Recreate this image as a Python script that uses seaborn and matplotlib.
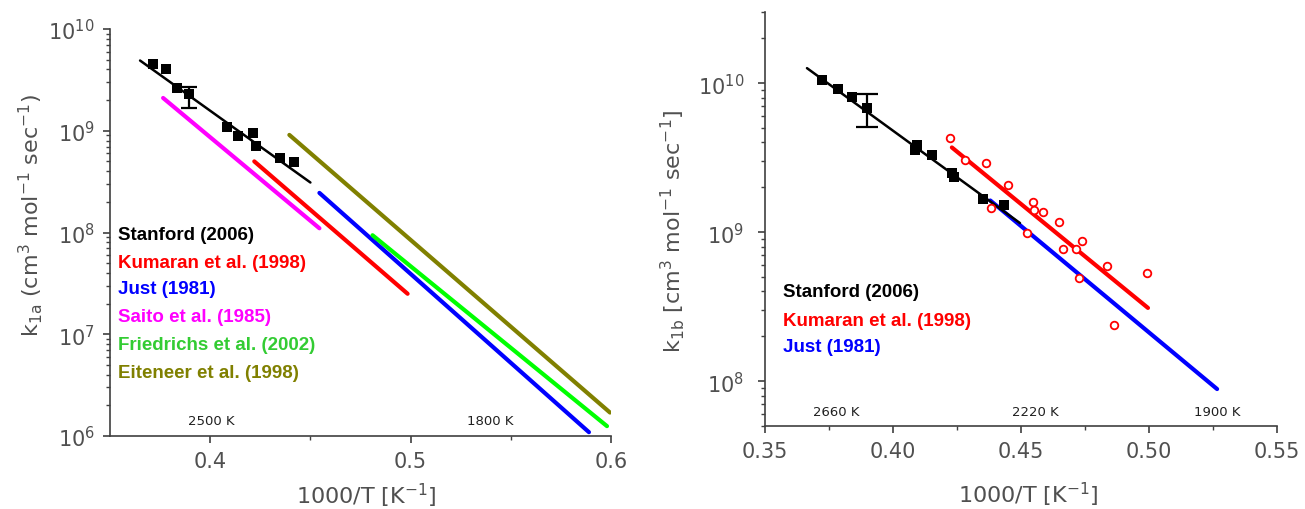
import numpy as np
import pandas as pd
import matplotlib
matplotlib.use("Agg")
import matplotlib.pyplot as plt
import seaborn as sns
from matplotlib.ticker import LogLocator, FixedLocator, NullFormatter, FixedFormatter

sns.set_style("ticks")
plt.rcParams['font.family'] = ['DejaVu Sans']
plt.rcParams['mathtext.default'] = 'regular'

# ---------------- Data: left panel (k1a) ----------------
stan_a_x = [0.3713, 0.378, 0.3833, 0.3892, 0.4083, 0.4137, 0.4213, 0.423, 0.435, 0.442]
stan_a_k = [4.5e9, 4.0e9, 2.65e9, 2.3e9, 1.08e9, 8.9e8, 9.6e8, 7.1e8, 5.4e8, 4.95e8]
stan_a_err_x = [0.3892]
stan_a_err_k = [2.3e9]
stan_a_err_lo = [1.66e9]
stan_a_err_hi = [2.67e9]

fit_a_names = ["Stanford (2006)", "Kumaran et al. (1998)", "Just (1981)",
               "Saito et al. (1985)", "Friedrichs et al. (2002)", "Eiteneer et al. (1998)"]
fit_a_x = {
    "Stanford (2006)": [0.365, 0.45],
    "Kumaran et al. (1998)": [0.422, 0.4985],
    "Just (1981)": [0.4545, 0.589],
    "Saito et al. (1985)": [0.3765, 0.4545],
    "Friedrichs et al. (2002)": [0.481, 0.598],
    "Eiteneer et al. (1998)": [0.4395, 0.5995],
}
fit_a_k = {
    "Stanford (2006)": [4.9e9, 3.1e8],
    "Kumaran et al. (1998)": [5.0e8, 2.5e7],
    "Just (1981)": [2.45e8, 1.09e6],
    "Saito et al. (1985)": [2.1e9, 1.1e8],
    "Friedrichs et al. (2002)": [9.4e7, 1.25e6],
    "Eiteneer et al. (1998)": [9.1e8, 1.7e6],
}

# ---------------- Data: right panel (k1b) ----------------
stan_b_x = [0.3721, 0.3786, 0.3839, 0.3897, 0.4085, 0.4095, 0.4151, 0.4229, 0.4240, 0.4353, 0.4434]
stan_b_k = [1.05e10, 9.1e9, 8.1e9, 6.8e9, 3.55e9, 3.85e9, 3.3e9, 2.5e9, 2.35e9, 1.68e9, 1.51e9]
stan_b_err_x = [0.3897]
stan_b_err_k = [6.8e9]
stan_b_err_lo = [5.04e9]
stan_b_err_hi = [8.4e9]

kum_b_x = [0.4223, 0.4281, 0.4363, 0.4448, 0.4382, 0.4548, 0.4551, 0.4587, 0.4648,
           0.4522, 0.4737, 0.4665, 0.4715, 0.4837, 0.4991, 0.4727, 0.4863]
kum_b_k = [4.28e9, 3.07e9, 2.91e9, 2.06e9, 1.46e9, 1.59e9, 1.41e9, 1.37e9, 1.17e9,
           9.85e8, 8.75e8, 7.7e8, 7.7e8, 5.9e8, 5.3e8, 4.9e8, 2.38e8]

fit_b_names = ["Stanford (2006)", "Kumaran et al. (1998)", "Just (1981)"]
fit_b_x = {
    "Stanford (2006)": [0.3664, 0.4496],
    "Kumaran et al. (1998)": [0.423, 0.4996],
    "Just (1981)": [0.438, 0.5266],
}
fit_b_k = {
    "Stanford (2006)": [1.26e10, 1.15e9],
    "Kumaran et al. (1998)": [3.7e9, 3.1e8],
    "Just (1981)": [1.63e9, 8.85e7],
}

temp_a_labels = ["2500 K", "1800 K"]
temp_b_labels = ["2660 K", "2220 K", "1900 K"]

# ---------------- Styles ----------------
line_colors = {
    "Stanford (2006)": "#000000",
    "Kumaran et al. (1998)": "#ff0000",
    "Just (1981)": "#0000ff",
    "Saito et al. (1985)": "#ff00ff",
    "Friedrichs et al. (2002)": "#00ff00",
    "Eiteneer et al. (1998)": "#808000",
}
text_colors = dict(line_colors)
text_colors["Friedrichs et al. (2002)"] = "#33cc33"
line_widths = {name: 3.0 for name in line_colors}
line_widths["Stanford (2006)"] = 1.8

gray = "#505050"

fig = plt.figure(figsize=(13.05, 5.1), dpi=100)
ax1 = fig.add_axes([110/1305, 1-437/510, 501/1305, 407/510])
ax2 = fig.add_axes([765/1305, 1-427/510, 512/1305, 414/510])

def fit_frame(names, xs, ks):
    rows = []
    for n in names:
        for x, k in zip(xs[n], ks[n]):
            rows.append({"name": n, "x": x, "k": k})
    return pd.DataFrame(rows)

# ---- left panel ----
df_a = fit_frame(fit_a_names, fit_a_x, fit_a_k)
order_a = ["Saito et al. (1985)", "Kumaran et al. (1998)", "Just (1981)",
           "Friedrichs et al. (2002)", "Eiteneer et al. (1998)", "Stanford (2006)"]
for n in order_a:
    sub = df_a[df_a.name == n]
    sns.lineplot(data=sub, x="x", y="k", ax=ax1, color=line_colors[n],
                 lw=line_widths[n], legend=False, estimator=None, sort=False)
ax1.errorbar(stan_a_err_x, stan_a_err_k,
             yerr=[np.array(stan_a_err_k) - np.array(stan_a_err_lo),
                   np.array(stan_a_err_hi) - np.array(stan_a_err_k)],
             fmt="none", ecolor="black", elinewidth=1.6, capsize=6, capthick=1.6, zorder=5)
sns.scatterplot(x=stan_a_x, y=stan_a_k, ax=ax1, marker="s", s=55, color="black",
                edgecolor="black", linewidth=0, zorder=6)

# ---- right panel ----
df_b = fit_frame(fit_b_names, fit_b_x, fit_b_k)
for n in ["Just (1981)", "Kumaran et al. (1998)", "Stanford (2006)"]:
    sub = df_b[df_b.name == n]
    sns.lineplot(data=sub, x="x", y="k", ax=ax2, color=line_colors[n],
                 lw=line_widths[n], legend=False, estimator=None, sort=False)
ax2.errorbar(stan_b_err_x, stan_b_err_k,
             yerr=[np.array(stan_b_err_k) - np.array(stan_b_err_lo),
                   np.array(stan_b_err_hi) - np.array(stan_b_err_k)],
             fmt="none", ecolor="black", elinewidth=1.6, capsize=8, capthick=1.6, zorder=5)
sns.scatterplot(x=stan_b_x, y=stan_b_k, ax=ax2, marker="s", s=50, color="black",
                edgecolor="black", linewidth=0, zorder=6)
sns.scatterplot(x=kum_b_x, y=kum_b_k, ax=ax2, marker="o", s=30, color="white",
                edgecolor="#ff0000", linewidth=1.3, zorder=7)

# ---- axes formatting ----
for ax in (ax1, ax2):
    ax.set_yscale("log")
    sns.despine(ax=ax)
    for sp in ("left", "bottom"):
        ax.spines[sp].set_color("#404040")
        ax.spines[sp].set_linewidth(1.2)
    ax.tick_params(axis="both", which="major", direction="out", length=5, width=1.2,
                   color="#404040", labelcolor=gray, labelsize=15, pad=6)
    ax.tick_params(axis="both", which="minor", direction="out", length=3, width=1.0,
                   color="#404040")
    ax.yaxis.set_minor_locator(LogLocator(base=10, subs=np.arange(2, 10), numticks=20))
    ax.yaxis.set_minor_formatter(NullFormatter())

ax1.set_xlim(0.35, 0.6)
ax1.set_ylim(1e6, 1e10)
ax1.xaxis.set_major_locator(FixedLocator([0.4, 0.5, 0.6]))
ax1.xaxis.set_major_formatter(FixedFormatter(["0.4", "0.5", "0.6"]))
ax1.xaxis.set_minor_locator(FixedLocator([0.45, 0.55]))
ax1.yaxis.set_major_locator(LogLocator(base=10, numticks=10))

ax2.set_xlim(0.35, 0.55)
ax2.set_ylim(5e7, 3e10)
ax2.xaxis.set_major_locator(FixedLocator([0.35, 0.40, 0.45, 0.50, 0.55]))
ax2.xaxis.set_major_formatter(FixedFormatter(["0.35", "0.40", "0.45", "0.50", "0.55"]))
ax2.xaxis.set_minor_locator(FixedLocator([0.375, 0.425, 0.475, 0.525]))
ax2.yaxis.set_major_locator(LogLocator(base=10, numticks=10))
ax2.tick_params(axis="y", which="major", pad=10)

ax1.set_xlabel("1000/T [K$^{-1}$]", fontsize=16, color=gray)
ax1.set_ylabel("k$_{1a}$ (cm$^{3}$ mol$^{-1}$ sec$^{-1}$)", fontsize=16, color=gray)
ax2.set_xlabel("1000/T [K$^{-1}$]", fontsize=16, color=gray)
ax2.set_ylabel("k$_{1b}$ [cm$^{3}$ mol$^{-1}$ sec$^{-1}$]", fontsize=16, color=gray)
ax1.xaxis.set_label_coords(0.511, -0.11)
ax1.yaxis.set_label_coords(-0.13, 0.545)
ax2.xaxis.set_label_coords(0.514, -0.13)
ax2.yaxis.set_label_coords(-0.152, 0.473)

# ---- in-plot legend texts ----
leg_a_y = [0.494, 0.4275, 0.3636, 0.2948, 0.2236, 0.1572]
for n, yy in zip(fit_a_names, leg_a_y):
    ax1.text(0.016, yy, n, transform=ax1.transAxes, color=text_colors[n],
             fontsize=13.5, fontweight="bold", family="Liberation Sans", va="center", ha="left")
leg_b_y = [0.3237, 0.256, 0.191]
for n, yy in zip(fit_b_names, leg_b_y):
    ax2.text(0.035, yy, n, transform=ax2.transAxes, color=text_colors[n],
             fontsize=13.5, fontweight="bold", family="Liberation Sans", va="center", ha="left")

# ---- temperature annotations ----
for lab, xx in zip(temp_a_labels, [0.2016, 0.758]):
    ax1.text(xx, 0.039, lab, transform=ax1.transAxes, fontsize=9.5, color="#202020",
             ha="center", va="center")
for lab, xx in zip(temp_b_labels, [0.1387, 0.529, 0.883]):
    ax2.text(xx, 0.036, lab, transform=ax2.transAxes, fontsize=9.5, color="#202020",
             ha="center", va="center")

fig.savefig("out.png", dpi=100)
